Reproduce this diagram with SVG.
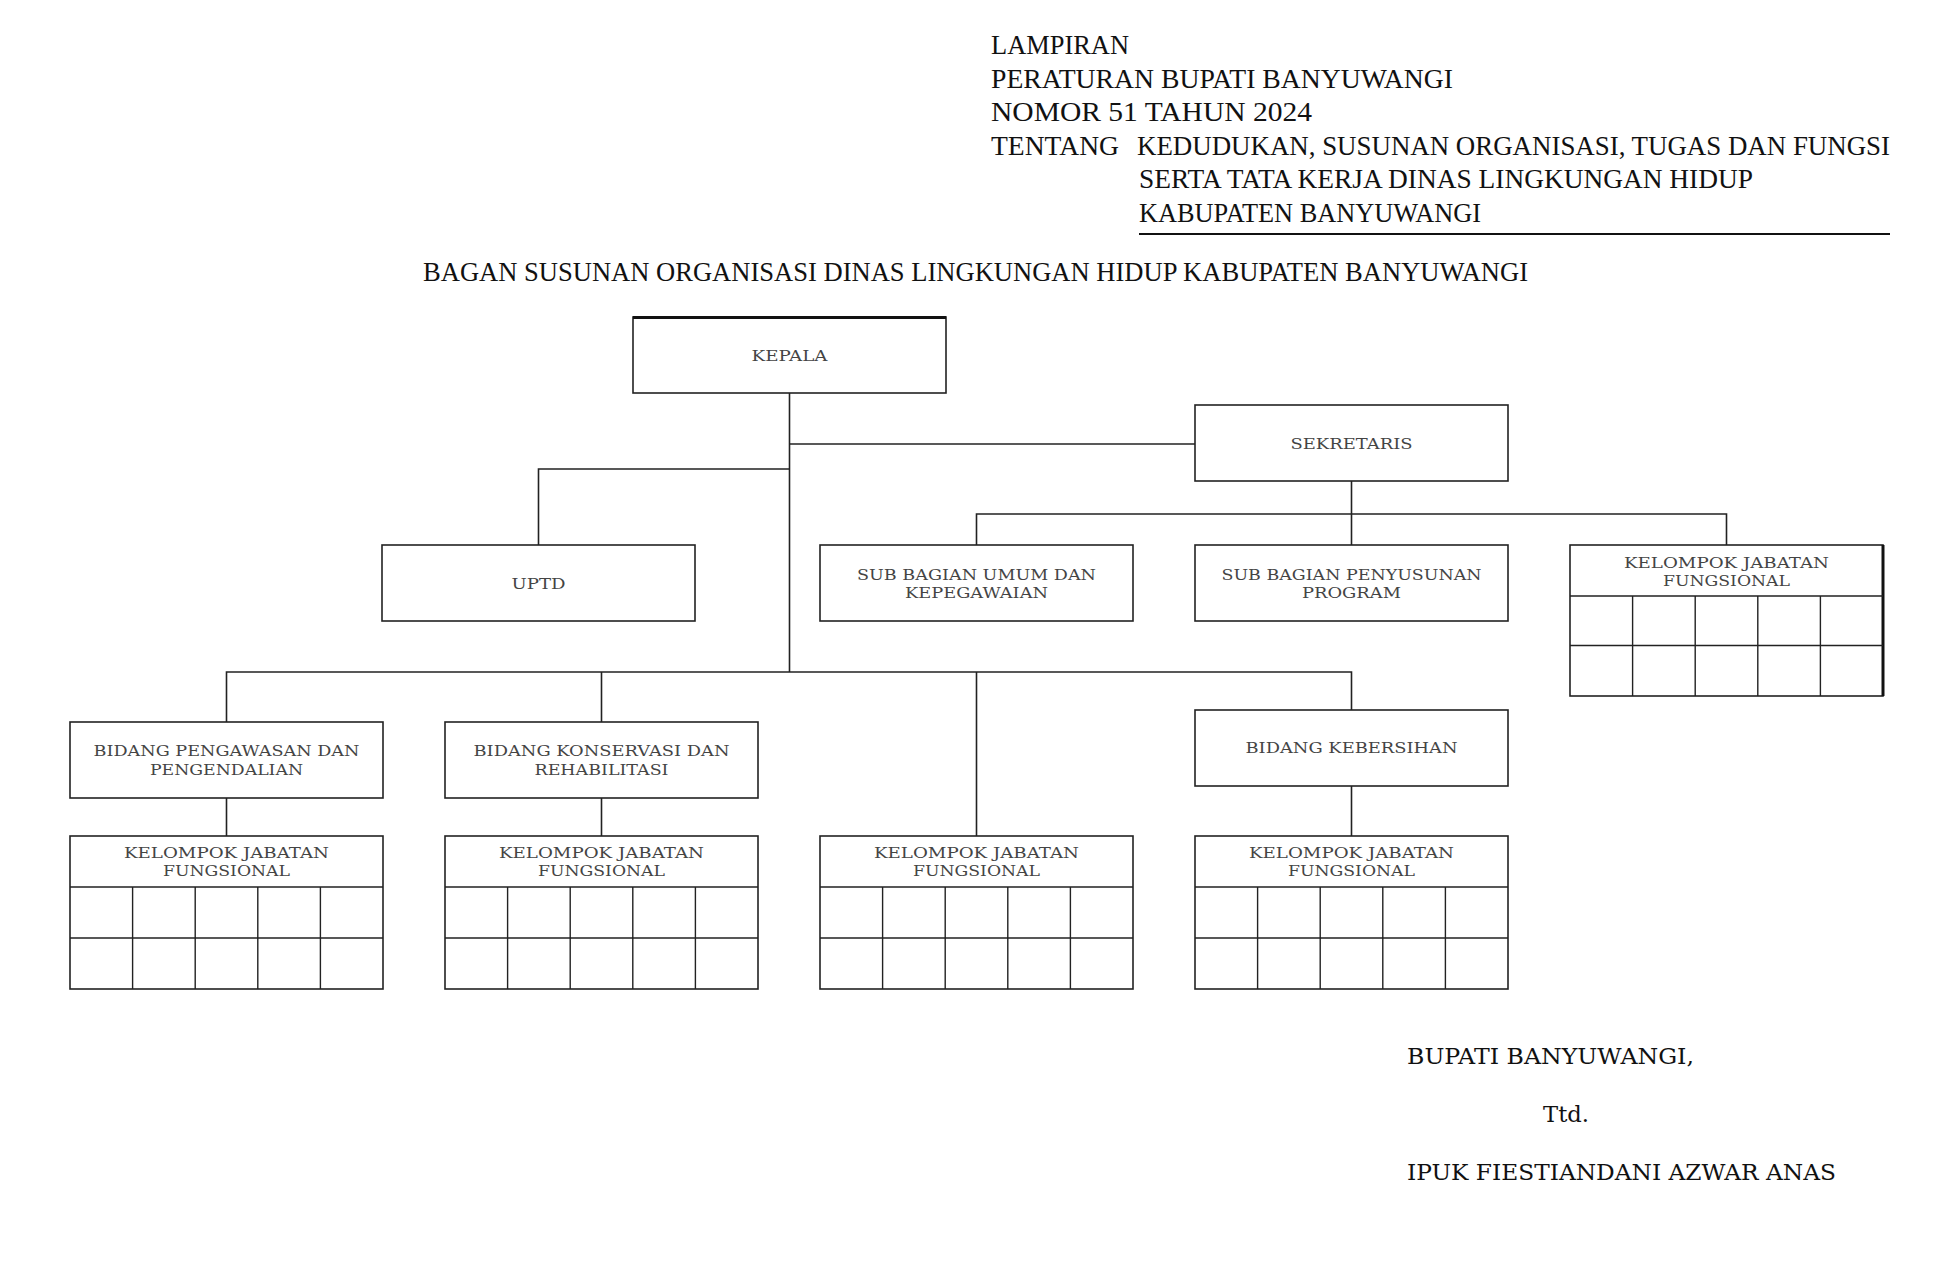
<svg xmlns="http://www.w3.org/2000/svg" width="1950" height="1276" viewBox="0 0 1950 1276">
<style>
.hd{font-family:"Liberation Serif","Times New Roman",serif;font-size:27px;fill:#111}
.sg{font-family:"DejaVu Serif","Liberation Serif",serif;font-size:22px;fill:#111}
.bx{fill:#fff;stroke:#222;stroke-width:1.6}
.lb{font-family:"DejaVu Serif","Liberation Serif",serif;font-size:15px;fill:#444;text-anchor:middle}
.cn{fill:none;stroke:#222;stroke-width:1.6}
.gr{fill:none;stroke:#222;stroke-width:1.4}
</style>
<rect width="1950" height="1276" fill="#fff"/>
<g id="header">
<text class="hd" x="991" y="54" textLength="138" lengthAdjust="spacingAndGlyphs">LAMPIRAN</text>
<text class="hd" x="991" y="88" textLength="462" lengthAdjust="spacingAndGlyphs">PERATURAN BUPATI BANYUWANGI</text>
<text class="hd" x="991" y="121" textLength="321" lengthAdjust="spacingAndGlyphs">NOMOR 51 TAHUN 2024</text>
<text class="hd" x="991" y="155" textLength="128" lengthAdjust="spacingAndGlyphs">TENTANG</text>
<text class="hd" x="1137" y="155" textLength="753" lengthAdjust="spacingAndGlyphs">KEDUDUKAN, SUSUNAN ORGANISASI, TUGAS DAN FUNGSI</text>
<text class="hd" x="1139" y="188" textLength="614" lengthAdjust="spacingAndGlyphs">SERTA TATA KERJA DINAS LINGKUNGAN HIDUP</text>
<text class="hd" x="1139" y="222" textLength="342" lengthAdjust="spacingAndGlyphs">KABUPATEN BANYUWANGI</text>
<line x1="1139" y1="234" x2="1890" y2="234" stroke="#111" stroke-width="2"/>
<text class="hd" x="423" y="281" textLength="1105" lengthAdjust="spacingAndGlyphs">BAGAN SUSUNAN ORGANISASI DINAS LINGKUNGAN HIDUP KABUPATEN BANYUWANGI</text>
</g>
<g id="connectors">
<path class="cn" d="M789.5 393V672"/>
<path class="cn" d="M789.5 444H1195"/>
<path class="cn" d="M789.5 469H538.5V545"/>
<path class="cn" d="M1351.5 481V545M976.5 545V514H1726.5V545"/>
<path class="cn" d="M226.5 722V672H1351.5V710M601.5 672V722M976.5 672V836"/>
<path class="cn" d="M226.5 798V836M601.5 798V836M1351.5 786V836"/>
</g>
<g id="kepala">
<rect class="bx" x="633" y="317" width="313" height="76"/>
<line x1="633" y1="317.5" x2="946" y2="317.5" stroke="#111" stroke-width="3"/>
<text class="lb" x="789.5" y="360.5" textLength="76" lengthAdjust="spacingAndGlyphs">KEPALA</text>
</g>
<g id="sekretaris">
<rect class="bx" x="1195" y="405" width="313" height="76"/>
<text class="lb" x="1351.5" y="448.5" textLength="122" lengthAdjust="spacingAndGlyphs">SEKRETARIS</text>
</g>
<g id="uptd">
<rect class="bx" x="382" y="545" width="313" height="76"/>
<text class="lb" x="538.5" y="588.5" textLength="54" lengthAdjust="spacingAndGlyphs">UPTD</text>
</g>
<g id="subbag-umum">
<rect class="bx" x="820" y="545" width="313" height="76"/>
<text class="lb" x="976.5" y="580" textLength="239" lengthAdjust="spacingAndGlyphs">SUB BAGIAN UMUM DAN</text>
<text class="lb" x="976.5" y="598" textLength="143" lengthAdjust="spacingAndGlyphs">KEPEGAWAIAN</text>
</g>
<g id="subbag-program">
<rect class="bx" x="1195" y="545" width="313" height="76"/>
<text class="lb" x="1351.5" y="580" textLength="260" lengthAdjust="spacingAndGlyphs">SUB BAGIAN PENYUSUNAN</text>
<text class="lb" x="1351.5" y="598" textLength="99" lengthAdjust="spacingAndGlyphs">PROGRAM</text>
</g>
<g id="jf-sekretariat">
<rect class="bx" x="1570" y="545" width="313" height="151"/>
<line x1="1883" y1="545" x2="1883" y2="696" stroke="#111" stroke-width="3"/>
<path class="gr" d="M1570 596H1883M1570 645.5H1883M1632.6 596V696M1695.2 596V696M1757.8 596V696M1820.4 596V696"/>
<text class="lb" x="1726.5" y="567.5" textLength="205" lengthAdjust="spacingAndGlyphs">KELOMPOK JABATAN</text>
<text class="lb" x="1726.5" y="585.5" textLength="127" lengthAdjust="spacingAndGlyphs">FUNGSIONAL</text>
</g>
<g id="bidang-pengawasan">
<rect class="bx" x="70" y="722" width="313" height="76"/>
<text class="lb" x="226.5" y="756" textLength="266" lengthAdjust="spacingAndGlyphs">BIDANG PENGAWASAN DAN</text>
<text class="lb" x="226.5" y="775" textLength="153" lengthAdjust="spacingAndGlyphs">PENGENDALIAN</text>
</g>
<g id="bidang-konservasi">
<rect class="bx" x="445" y="722" width="313" height="76"/>
<text class="lb" x="601.5" y="756" textLength="256" lengthAdjust="spacingAndGlyphs">BIDANG KONSERVASI DAN</text>
<text class="lb" x="601.5" y="775" textLength="134" lengthAdjust="spacingAndGlyphs">REHABILITASI</text>
</g>
<g id="bidang-kebersihan">
<rect class="bx" x="1195" y="710" width="313" height="76"/>
<text class="lb" x="1351.5" y="753" textLength="212" lengthAdjust="spacingAndGlyphs">BIDANG KEBERSIHAN</text>
</g>
<g id="jf-pengawasan">
<rect class="bx" x="70" y="836" width="313" height="153"/>
<path class="gr" d="M70 887H383M70 938H383M132.6 887V989M195.2 887V989M257.8 887V989M320.4 887V989"/>
<text class="lb" x="226.5" y="858" textLength="205" lengthAdjust="spacingAndGlyphs">KELOMPOK JABATAN</text>
<text class="lb" x="226.5" y="876" textLength="127" lengthAdjust="spacingAndGlyphs">FUNGSIONAL</text>
</g>
<g id="jf-konservasi">
<rect class="bx" x="445" y="836" width="313" height="153"/>
<path class="gr" d="M445 887H758M445 938H758M507.6 887V989M570.2 887V989M632.8 887V989M695.4 887V989"/>
<text class="lb" x="601.5" y="858" textLength="205" lengthAdjust="spacingAndGlyphs">KELOMPOK JABATAN</text>
<text class="lb" x="601.5" y="876" textLength="127" lengthAdjust="spacingAndGlyphs">FUNGSIONAL</text>
</g>
<g id="jf-tengah">
<rect class="bx" x="820" y="836" width="313" height="153"/>
<path class="gr" d="M820 887H1133M820 938H1133M882.6 887V989M945.2 887V989M1007.8 887V989M1070.4 887V989"/>
<text class="lb" x="976.5" y="858" textLength="205" lengthAdjust="spacingAndGlyphs">KELOMPOK JABATAN</text>
<text class="lb" x="976.5" y="876" textLength="127" lengthAdjust="spacingAndGlyphs">FUNGSIONAL</text>
</g>
<g id="jf-kebersihan">
<rect class="bx" x="1195" y="836" width="313" height="153"/>
<path class="gr" d="M1195 887H1508M1195 938H1508M1257.6 887V989M1320.2 887V989M1382.8 887V989M1445.4 887V989"/>
<text class="lb" x="1351.5" y="858" textLength="205" lengthAdjust="spacingAndGlyphs">KELOMPOK JABATAN</text>
<text class="lb" x="1351.5" y="876" textLength="127" lengthAdjust="spacingAndGlyphs">FUNGSIONAL</text>
</g>
<g id="signature">
<text class="sg" x="1407" y="1064" textLength="287" lengthAdjust="spacingAndGlyphs">BUPATI BANYUWANGI,</text>
<text class="sg" x="1543" y="1122" textLength="46" lengthAdjust="spacingAndGlyphs">Ttd.</text>
<text class="sg" x="1407" y="1180" textLength="429" lengthAdjust="spacingAndGlyphs">IPUK FIESTIANDANI AZWAR ANAS</text>
</g>
</svg>
